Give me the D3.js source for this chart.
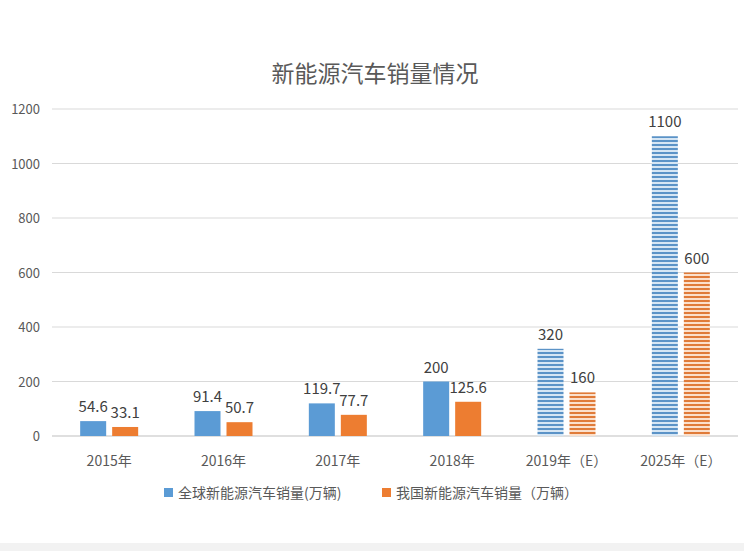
<!DOCTYPE html>
<html><head><meta charset="utf-8">
<script src="https://cdn.jsdelivr.net/npm/d3@7"></script>
<style>body{margin:0;background:#fff;font-family:"Noto Sans CJK SC","Noto Sans",sans-serif;}</style>
</head><body><svg id="c" width="744" height="551"></svg>
<script>
const categories=["2015年","2016年","2017年","2018年","2019年（E）","2025年（E）"];
const globalSales=[54.6,91.4,119.7,200,320,1100];
const chinaSales=[33.1,50.7,77.7,125.6,160,600];
const estimated=[false,false,false,false,true,true];
const yTicks=[0,200,400,600,800,1000,1200];
const seriesNames=["全球新能源汽车销量(万辆)","我国新能源汽车销量（万辆）"];

const svg=d3.select("#c");
svg.append("rect").attr("x",0).attr("y",543).attr("width",744).attr("height",8).attr("fill","#f2f2f2");
const defs=svg.append("defs");
function pat(id,bg,fg){const p=defs.append("pattern").attr("id",id).attr("patternUnits","userSpaceOnUse").attr("width",6).attr("height",4);
p.append("rect").attr("width",6).attr("height",4).attr("fill",bg);
p.append("rect").attr("y",0).attr("width",6).attr("height",2).attr("fill",fg);}
pat("hb","#d6e6f4","#5b93c7");pat("ho","#fbe0cc","#e07b39");

const L=52,R=738,T=109,B=436;
const x=d3.scaleBand().domain(categories).range([L,R]);
const y=d3.scaleLinear().domain([0,1200]).range([B,T]);
const g=svg.append("g");
g.selectAll("line.g").data(yTicks).join("line").attr("x1",L).attr("x2",R)
 .attr("y1",d=>y(d)).attr("y2",d=>y(d)).attr("stroke",d=>d===0?"#bfbfbf":"#d9d9d9");
g.selectAll("text.yt").data(yTicks).join("text").attr("x",40).attr("y",d=>y(d)+5)
 .attr("text-anchor","end").attr("font-size",13).attr("fill","#595959").text(d=>d);
const bw=26,gap=6;
categories.forEach((c,i)=>{
 const cx=x(c)+x.bandwidth()/2;
 [[globalSales[i],cx-gap/2-bw,"#5b9bd5","url(#hb)"],[chinaSales[i],cx+gap/2,"#ed7d31","url(#ho)"]].forEach(([v,bx,col,hp])=>{
  g.append("rect").attr("x",bx).attr("y",y(v)).attr("width",bw).attr("height",B-y(v)).attr("fill",estimated[i]?hp:col);
  g.append("text").attr("x",bx+bw/2).attr("y",y(v)-9).attr("text-anchor","middle").attr("font-size",15).attr("fill","#404040").text(v);
 });
 g.append("text").attr("x",cx).attr("y",466).attr("text-anchor","middle").attr("font-size",14).attr("fill","#595959").text(c);
});
svg.append("text").attr("x",375).attr("y",82).attr("text-anchor","middle").attr("font-size",23).attr("fill","#595959").text("新能源汽车销量情况");
const lg=svg.append("g");
[[164,"#5b9bd5",seriesNames[0]],[382,"#ed7d31",seriesNames[1]]].forEach(([lx,col,t])=>{
 lg.append("rect").attr("x",lx).attr("y",488).attr("width",9).attr("height",9).attr("fill",col);
 lg.append("text").attr("x",lx+14).attr("y",498).attr("font-size",14).attr("fill","#595959").text(t);
});
</script></body></html>
